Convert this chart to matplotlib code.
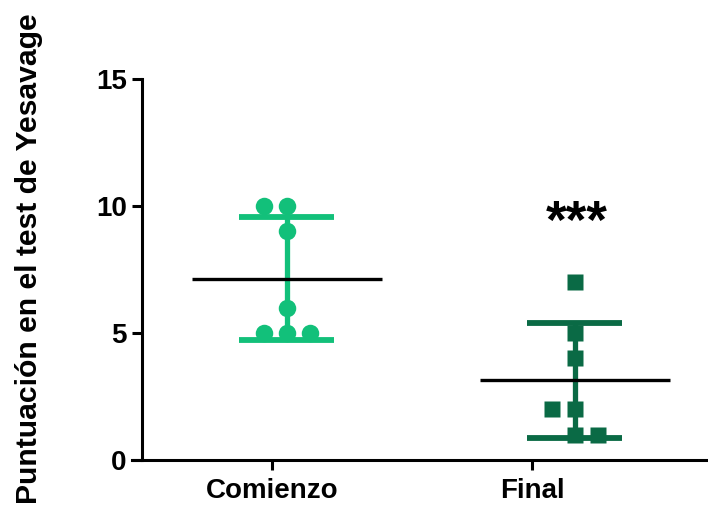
import numpy as np
import matplotlib
matplotlib.use("Agg")
import matplotlib.pyplot as plt

plt.rcParams['font.family'] = ['Liberation Sans', 'DejaVu Sans']
plt.rcParams['font.weight'] = 'bold'

groups = ["Comienzo", "Final"]
comienzo = [10, 10, 9, 6, 5, 5, 5]
final = [7, 5, 4, 2, 2, 1, 1]
colors = ["#12C07A", "#0A6A45"]
markers = ["o", "s"]
signif = ["", "***"]
ylabel = "Puntuación en el test de Yesavage"
yticks = [0, 5, 10, 15]

JIT = 0.08  # horizontal step between equal values


def swarm_offsets(vals):
    """spread equal values sideways, alternating which side goes first."""
    offs = np.zeros(len(vals))
    side = -1
    for v in sorted(set(vals), reverse=True):
        idx = [i for i, x in enumerate(vals) if x == v]
        if len(idx) < 2:
            continue
        order = [0, side, -side]
        for k, i in enumerate(idx):
            offs[i] = order[k % 3] * JIT
        side = -side
    return offs


fig = plt.figure(figsize=(7.08, 5.27), dpi=100)
ax = fig.add_axes([0.1864, 0.1271, 0.8136, 0.7230])

for i, vals in enumerate([comienzo, final]):
    vals = np.array(vals, dtype=float)
    m = vals.mean()
    sd = vals.std(ddof=1)
    c = colors[i]
    ax.vlines(i, m - sd, m + sd, color=c, lw=3.8, zorder=2)
    ax.hlines([m - sd, m + sd], i - 0.165, i + 0.165, color=c, lw=4.2, zorder=2)
    ms = 12.6 if markers[i] == "o" else 11
    ax.plot(i + swarm_offsets(list(vals)), vals, ls="none", marker=markers[i],
            ms=ms, color=c, mec="none", zorder=3)
    ax.hlines(m, i - 0.33, i + 0.33, color="black", lw=2.4, zorder=4)
    if signif[i]:
        ax.text(i + 0.005, 8.75, signif[i], ha="center", va="baseline",
                fontsize=38, fontweight="bold")

ax.set_xlim(-0.538, 1.462)
ax.set_ylim(0, 15)
ax.spines['top'].set_visible(False)
ax.spines['right'].set_visible(False)
ax.spines['left'].set_position(('data', -0.503))
ax.spines['left'].set_bounds(0, 15)
for s in ['left', 'bottom']:
    ax.spines[s].set_linewidth(2.2)

ax.set_yticks(yticks)
# category ticks sit a bit left of the data columns in the original
ax.set_xticks([-0.052, 0.851])
ax.set_xticklabels(groups)
ax.tick_params(axis='both', width=2.2, length=7, labelsize=20, pad=4)
ax.tick_params(axis='x', pad=6)
for t in ax.get_xticklabels() + ax.get_yticklabels():
    t.set_fontweight('bold')

fig.text(0.041, 0.5085, ylabel, rotation=90, ha="center", va="center",
         fontsize=21.7, fontweight="bold")

fig.savefig("out.png", dpi=100)
